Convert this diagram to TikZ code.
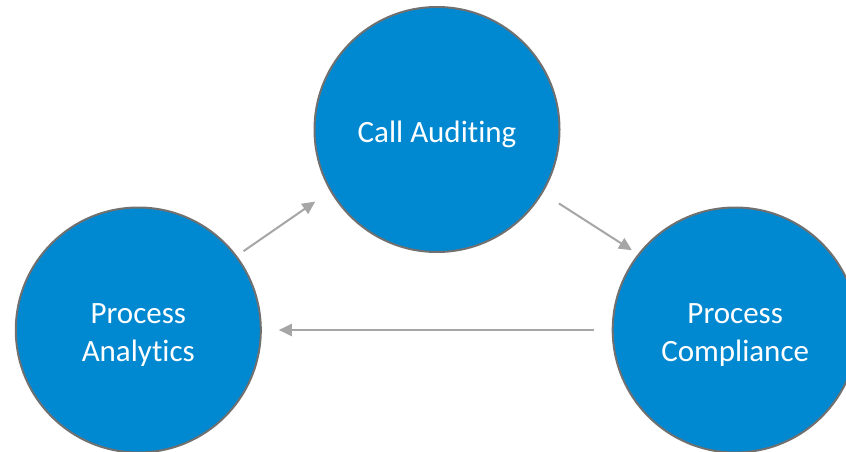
\documentclass[tikz,border=0pt]{standalone}
\usepackage{fontspec}
\setmainfont{Carlito}[Ligatures={NoCommon,NoRare,NoContextual}]
\usetikzlibrary{arrows.meta}
\definecolor{cfill}{HTML}{0088D1}
\definecolor{cborder}{HTML}{707070}
\definecolor{carrow}{HTML}{A6A6A6}
\begin{document}
\begin{tikzpicture}[x=1pt,y=-1pt,
  bubble/.style={circle,fill=cfill,draw=cborder,line width=2pt,inner sep=0pt,outer sep=0pt,
    minimum size=245pt},
  btext/.style={text=white,align=center,font=\fontsize{31}{38}\selectfont,yshift=-5pt},
  arr/.style={draw=carrow,line width=2pt,-{Triangle[length=13pt,width=12pt]}}]
\useasboundingbox (0,0) rectangle (846,452);
\clip (0,0) rectangle (846,452);
\node[bubble,label={[btext]center:Call Audi\kern0pt ting}] (call) at (437,129.5) {};
\node[bubble,label={[btext]center:Process\\Analytics}] (ana) at (138.3,330) {};
\node[bubble,label={[btext]center:Process\\Compliance}] (comp) at (735.2,330) {};
\draw[arr,shorten <=9pt,shorten >=19pt] (ana.37) -- (call.210);
\draw[arr,shorten <=20pt,shorten >=8pt] (call.-31.6) -- (comp.142.8);
\draw[arr,shorten <=18.5pt,shorten >=18pt] (comp.180) -- (ana.0);
\end{tikzpicture}
\end{document}
